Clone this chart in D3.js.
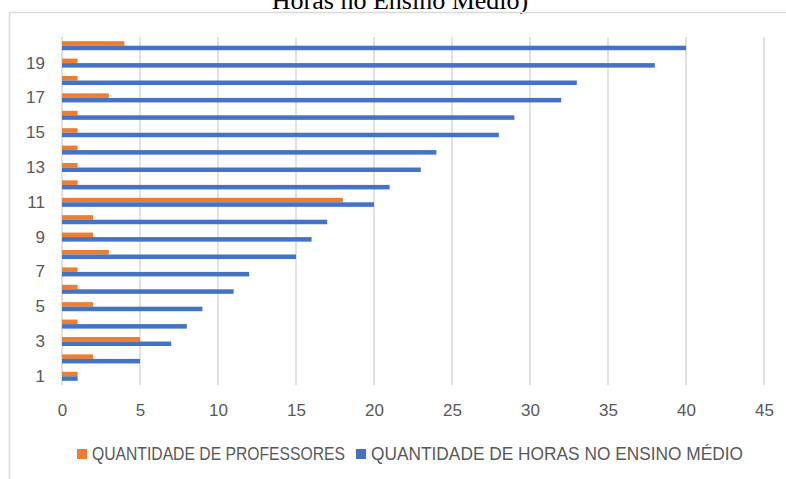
<!DOCTYPE html>
<html>
<head>
<meta charset="utf-8">
<script src="https://cdn.jsdelivr.net/npm/d3@7"></script>
<style>
  body { margin: 0; background: #fff; }
  svg { display: block; }
</style>
</head>
<body>
<svg width="786" height="479"></svg>
<script>
// data
var categories = ['1','2','3','4','5','6','7','8','9','10','11','12','13','14','15','16','17','18','19','20'];
var professores = [1, 2, 5, 1, 2, 1, 1, 3, 2, 2, 18, 1, 1, 1, 1, 1, 3, 1, 1, 4];
var horas = [1, 5, 7, 8, 9, 11, 12, 15, 16, 17, 20, 21, 23, 24, 28, 29, 32, 33, 38, 40];
var seriesNames = ['QUANTIDADE DE PROFESSORES', 'QUANTIDADE DE HORAS NO ENSINO MÉDIO'];
var seriesColors = ['#ed7d31', '#4472c4'];
var xTicks = [0, 5, 10, 15, 20, 25, 30, 35, 40, 45];

var svg = d3.select('svg');
var numFont = '"Liberation Sans", Arial, sans-serif';
var legendFont = '"Liberation Sans Narrow", "Liberation Sans", sans-serif';

// title (cut off at the top of the picture)
svg.append('text')
  .attr('x', 400)
  .attr('y', 9)
  .attr('text-anchor', 'middle')
  .attr('font-family', '"Liberation Serif", "Times New Roman", serif')
  .attr('font-size', 26)
  .attr('fill', '#000')
  .text('Horas no Ensino Médio)');

// chart frame
svg.append('path')
  .attr('d', 'M9.5,479 V12.5 H786')
  .attr('fill', 'none')
  .attr('stroke', '#d9d9d9')
  .attr('stroke-width', 1.5);

var x = d3.scaleLinear().domain([0, 45]).range([62, 764]);
var y = d3.scaleBand().domain(categories).range([385, 37])
  .paddingInner(0.48).paddingOuter(0.24);
var ySub = d3.scaleBand().domain([0, 1]).range([0, y.bandwidth()]);

// gridlines
svg.append('g')
  .selectAll('line')
  .data(xTicks)
  .enter().append('line')
    .attr('x1', d => x(d))
    .attr('x2', d => x(d))
    .attr('y1', 37)
    .attr('y2', 385)
    .attr('stroke', '#d9d9d9')
    .attr('stroke-width', 1.5);

// bars
var rows = categories.map((c, i) => ({cat: c, vals: [professores[i], horas[i]]}));
var groups = svg.append('g')
  .selectAll('g')
  .data(rows)
  .enter().append('g')
    .attr('transform', d => 'translate(0,' + y(d.cat) + ')');

groups.selectAll('rect')
  .data(d => d.vals.map((v, k) => ({k: k, v: v})))
  .enter().append('rect')
    .attr('x', x(0))
    .attr('y', d => ySub(d.k))
    .attr('width', d => x(d.v) - x(0))
    .attr('height', ySub.bandwidth())
    .attr('fill', d => seriesColors[d.k]);

// x axis labels
var xAxis = svg.append('g')
  .attr('transform', 'translate(0,385)')
  .call(d3.axisBottom(x).tickValues(xTicks).tickSize(0).tickPadding(19));
xAxis.select('.domain').remove();
xAxis.attr('font-family', numFont).attr('font-size', 17);
xAxis.selectAll('text').attr('fill', '#595959');

// y axis labels (odd categories only)
var yAxis = svg.append('g')
  .attr('transform', 'translate(45,0)')
  .call(d3.axisLeft(y).tickValues(categories.filter((c, i) => i % 2 === 0)).tickSize(0).tickPadding(0));
yAxis.select('.domain').remove();
yAxis.attr('font-family', numFont).attr('font-size', 17);
yAxis.selectAll('text').attr('fill', '#595959');

// legend
var legendX = [77, 356];
var legendW = [253, 372];
var legend = svg.append('g')
  .selectAll('g')
  .data(seriesNames)
  .enter().append('g')
    .attr('transform', (d, i) => 'translate(' + legendX[i] + ',454)');
legend.append('rect')
  .attr('x', 0)
  .attr('y', -5)
  .attr('width', 10)
  .attr('height', 10)
  .attr('fill', (d, i) => seriesColors[i]);
legend.append('text')
  .attr('x', 15)
  .attr('y', 0)
  .attr('dy', '0.36em')
  .attr('font-family', legendFont)
  .attr('font-size', 18)
  .attr('fill', '#595959')
  .attr('textLength', (d, i) => legendW[i])
  .attr('lengthAdjust', 'spacingAndGlyphs')
  .text(d => d);
</script>
</body>
</html>
